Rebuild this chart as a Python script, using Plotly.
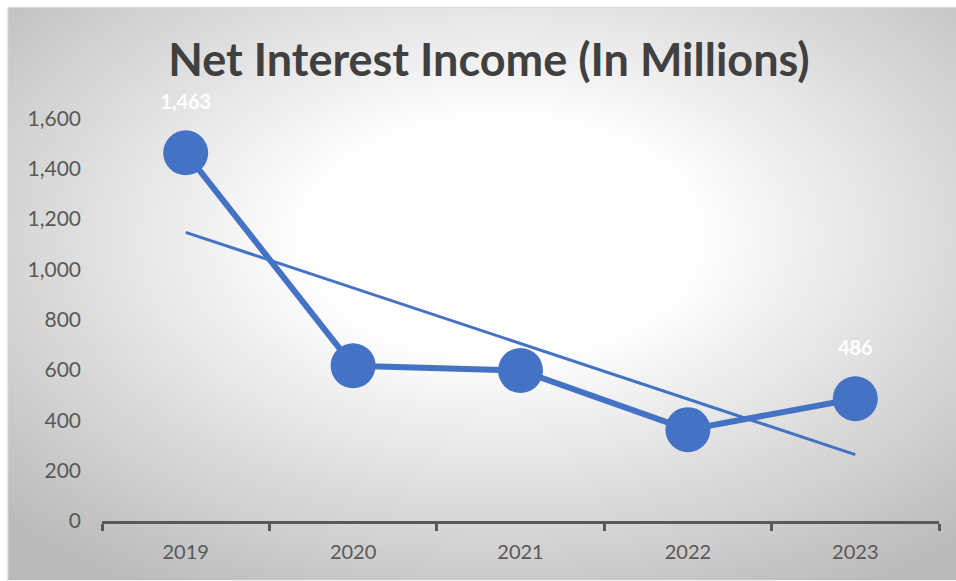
import base64
import numpy as np
import plotly.graph_objects as go

years = ["2019", "2020", "2021", "2022", "2023"]
income = [1463, 617, 598, 363, 486]
y_ticks = [0, 200, 400, 600, 800, 1000, 1200, 1400, 1600]
title_text = "Net Interest Income (In Millions)"

BLUE = "#4472C4"
W, H = 956, 581
Y0_PX = 521.5            # pixel row of value 0
PX_PER_UNIT = 403.5 / 1600
Y_MAX = 1800             # axis range top (ticks stop at 1600)
L, R, B = 102, 17, H - Y0_PX
T = Y0_PX - Y_MAX * PX_PER_UNIT
pw, ph = W - L - R, H - T - B

# linear trend line computed from the data
xi = np.arange(1, len(income) + 1)
slope, intercept = np.polyfit(xi, income, 1)
trend = slope * xi + intercept

svg = (
    "<svg xmlns='http://www.w3.org/2000/svg' width='948' height='574' preserveAspectRatio='none'>"
    "<defs><radialGradient id='g' cx='52%' cy='40%' r='72%'>"
    "<stop offset='0' stop-color='#ffffff'/>"
    "<stop offset='0.28' stop-color='#ffffff'/>"
    "<stop offset='1' stop-color='#bababa'/>"
    "</radialGradient></defs>"
    "<rect x='0' y='0' width='948' height='574' fill='url(#g)'/></svg>"
)
src = "data:image/svg+xml;base64," + base64.b64encode(svg.encode()).decode()

def px_x(p):
    return (p - L) / pw

def px_y(p):
    return 1 - (p - T) / ph

fig = go.Figure()
fig.add_trace(go.Scatter(
    x=years, y=income, mode="lines+markers",
    line=dict(color=BLUE, width=6),
    marker=dict(size=45, color=BLUE),
    cliponaxis=False, showlegend=False, hoverinfo="skip",
))
fig.add_trace(go.Scatter(
    x=years, y=trend, mode="lines",
    line=dict(color=BLUE, width=3),
    cliponaxis=False, showlegend=False, hoverinfo="skip",
))

# data labels for first and last point, shifted up by a fixed pixel offset
lab_idx = [0, len(years) - 1]
shift = 49 / PX_PER_UNIT
fig.add_trace(go.Scatter(
    x=[years[i] for i in lab_idx],
    y=[income[i] + shift for i in lab_idx],
    text=[f"<b>{income[i]:,}</b>" for i in lab_idx],
    mode="text", textposition="middle center",
    textfont=dict(family="Lato", size=20, color="#ffffff"),
    cliponaxis=False, showlegend=False, hoverinfo="skip",
))

fig.add_layout_image(dict(
    source=src, xref="paper", yref="paper",
    x=px_x(8), y=px_y(7), sizex=px_x(W) - px_x(8), sizey=px_y(7) - px_y(H),
    sizing="stretch", xanchor="left", yanchor="top", layer="below",
))
fig.add_shape(type="rect", xref="paper", yref="paper",
              x0=px_x(8), x1=px_x(W + 5), y0=px_y(H + 5), y1=px_y(7),
              line=dict(color="#d4d4d4", width=1), layer="below")

fig.update_layout(
    width=W, height=H,
    margin=dict(l=L, r=R, t=T, b=B),
    paper_bgcolor="white", plot_bgcolor="rgba(0,0,0,0)",
    title=dict(text=title_text, x=489 / W, xref="container", xanchor="center",
               y=1 - 60 / H, yanchor="middle",
               font=dict(family="Lato", size=45, color="#404040", weight="bold")),
    font=dict(family="Lato", size=20, color="#595959"),
)
fig.update_xaxes(
    type="category", range=[-0.5, len(years) - 0.5],
    showline=True, linecolor="#595959", linewidth=3,
    ticks="outside", tickson="boundaries", ticklen=7, tickwidth=3, tickcolor="#595959",
    showgrid=False, zeroline=False, ticklabelstandoff=11,
    tickfont=dict(size=20),
)
fig.update_yaxes(
    range=[0, Y_MAX], tickvals=y_ticks, tickformat=",",
    showgrid=False, zeroline=False, showline=False,
    ticklabelstandoff=20, tickfont=dict(size=21),
)

fig.write_html("out.html")
